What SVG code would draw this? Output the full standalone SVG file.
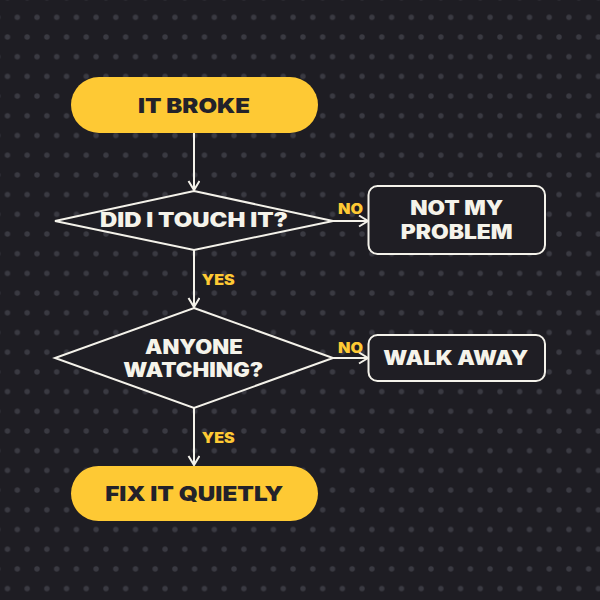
<svg xmlns="http://www.w3.org/2000/svg" width="600" height="600" viewBox="0 0 600 600">
  <defs>
    <pattern id="dots" patternUnits="userSpaceOnUse" x="17.3" y="17.3" width="19.7" height="39.4">
      <circle cx="0" cy="0" r="2.7" fill="#3a3a42"/>
      <circle cx="19.7" cy="0" r="2.7" fill="#3a3a42"/>
      <circle cx="0" cy="39.4" r="2.7" fill="#3a3a42"/>
      <circle cx="19.7" cy="39.4" r="2.7" fill="#3a3a42"/>
      <circle cx="9.85" cy="19.7" r="2.7" fill="#3a3a42"/>
    </pattern>
    <marker id="arrow" markerUnits="userSpaceOnUse" markerWidth="14" markerHeight="14" refX="10" refY="6" orient="auto">
      <path d="M1,0.5 L10,6 L1,11.5" fill="none" stroke="#f4f2ea" stroke-width="2" stroke-linejoin="miter"/>
    </marker>
    <style>
      .pill { fill: #fec934; }
      .pilltext { font-family: Inter, "DejaVu Sans", sans-serif; font-weight: 900; font-size: 20.5px; fill: #23222a; text-anchor: middle; }
      .shape { fill: #1f1e24; stroke: #f4f2ea; stroke-width: 2; }
      .nodetext { font-family: Inter, "DejaVu Sans", sans-serif; font-weight: 900; font-size: 19.5px; fill: #f5f3ea; text-anchor: middle; }
      .edge { stroke: #f4f2ea; stroke-width: 2; fill: none; }
      .label { font-family: Inter, "DejaVu Sans", sans-serif; font-weight: 900; font-size: 14px; fill: #fec934; text-anchor: middle; }
    </style>
  </defs>
  <rect width="600" height="600" fill="#1e1d23"/>
  <rect width="600" height="600" fill="url(#dots)"/>

  <g id="connectors">
    <line class="edge" x1="194" y1="133" x2="194" y2="190" marker-end="url(#arrow)"/>
    <line class="edge" x1="333" y1="221" x2="368" y2="221" marker-end="url(#arrow)"/>
    <line class="edge" x1="194" y1="250" x2="194" y2="307" marker-end="url(#arrow)"/>
    <line class="edge" x1="333" y1="358" x2="368" y2="358" marker-end="url(#arrow)"/>
    <line class="edge" x1="194" y1="408" x2="194" y2="465" marker-end="url(#arrow)"/>
    <text class="label" x="350.5" y="214" textLength="25" lengthAdjust="spacingAndGlyphs">NO</text>
    <text class="label" x="218.3" y="285" textLength="33" lengthAdjust="spacingAndGlyphs">YES</text>
    <text class="label" x="350.5" y="353" textLength="25" lengthAdjust="spacingAndGlyphs">NO</text>
    <text class="label" x="218.3" y="443" textLength="33" lengthAdjust="spacingAndGlyphs">YES</text>
  </g>

  <g id="start">
    <rect class="pill" x="71" y="77" width="247" height="56" rx="28"/>
    <text class="pilltext" x="194" y="112.5" textLength="112" lengthAdjust="spacingAndGlyphs">IT BROKE</text>
  </g>

  <g id="q1">
    <polygon class="shape" points="194,191 333,221 194,250 55,221"/>
    <text class="nodetext" x="194" y="227" textLength="188" lengthAdjust="spacingAndGlyphs">DID I TOUCH IT?</text>
  </g>

  <g id="notmine">
    <rect class="shape" x="368.5" y="186" width="176.5" height="68" rx="9"/>
    <text class="nodetext" x="456.7" y="215" textLength="93" lengthAdjust="spacingAndGlyphs">NOT MY</text>
    <text class="nodetext" x="456.7" y="238.5" textLength="112" lengthAdjust="spacingAndGlyphs">PROBLEM</text>
  </g>

  <g id="q2">
    <polygon class="shape" points="194,308 333,358 194,408 55,358"/>
    <text class="nodetext" x="193.8" y="353.5" textLength="97.7" lengthAdjust="spacingAndGlyphs">ANYONE</text>
    <text class="nodetext" x="193.3" y="377" textLength="140" lengthAdjust="spacingAndGlyphs">WATCHING?</text>
  </g>

  <g id="walkaway">
    <rect class="shape" x="368.5" y="335" width="176.5" height="46" rx="9"/>
    <text class="nodetext" x="455.8" y="364.5" textLength="145" lengthAdjust="spacingAndGlyphs">WALK AWAY</text>
  </g>

  <g id="fix">
    <rect class="pill" x="71" y="466" width="247" height="55" rx="27.5"/>
    <text class="pilltext" x="194.2" y="500.5" textLength="178" lengthAdjust="spacingAndGlyphs">FIX IT QUIETLY</text>
  </g>
</svg>
